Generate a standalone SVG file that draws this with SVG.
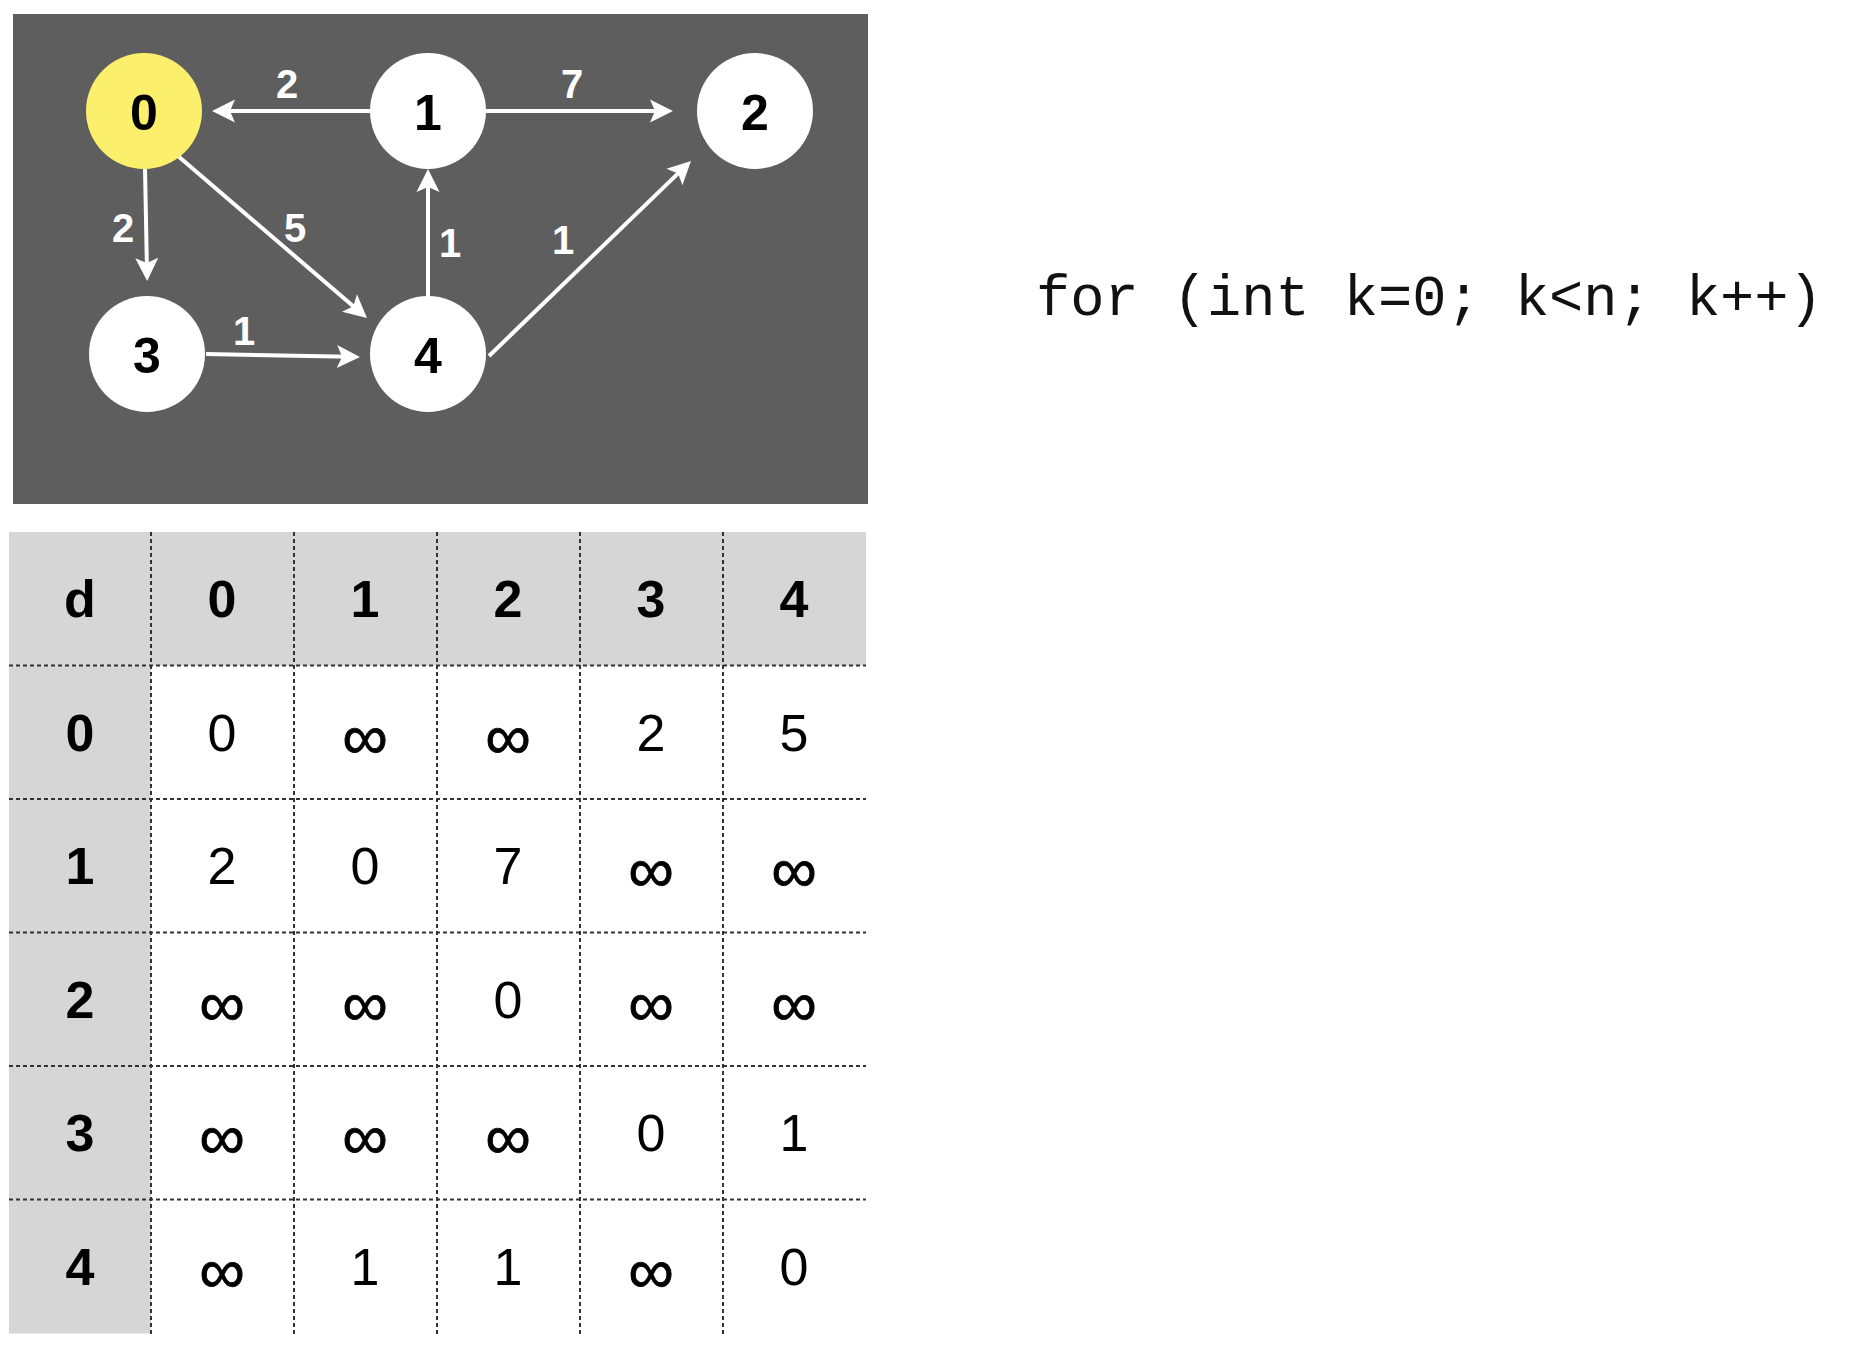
<svg xmlns="http://www.w3.org/2000/svg" width="1850" height="1350" viewBox="0 0 1850 1350">
<style>
.nd{fill:#ffffff}
.nl{font-family:"Liberation Sans",Arial,sans-serif;font-weight:bold;font-size:50px;fill:#000;text-anchor:middle}
.el{font-family:"Liberation Sans",Arial,sans-serif;font-weight:bold;font-size:40px;fill:#fff;text-anchor:middle}
.ed{stroke:#fff;stroke-width:4;fill:none;marker-end:url(#ah)}
.th{font-family:"Liberation Sans",Arial,sans-serif;font-weight:bold;font-size:52px;fill:#000;text-anchor:middle}
.td{font-family:"Liberation Sans",Arial,sans-serif;font-size:52px;fill:#000;text-anchor:middle}
.inf{font-family:"Liberation Sans",Arial,sans-serif;font-size:64px;fill:#000;text-anchor:middle;stroke:#000;stroke-width:0.8}
.gl{stroke:#333;stroke-width:2;stroke-dasharray:4 3;fill:none}
.code{font-family:"Liberation Mono","Courier New",monospace;font-size:57px;fill:#111}
</style>
<defs>
<marker id="ah" markerUnits="userSpaceOnUse" viewBox="-24 -13 26 26" refX="-10" refY="0" markerWidth="26" markerHeight="26" orient="auto">
<path d="M0,0 L-23,-11.5 L-18,0 L-23,11.5 Z" fill="#fff"/>
</marker>
</defs>
<rect width="1850" height="1350" fill="#fff"/>
<rect id="panel" x="13" y="14" width="855" height="490" fill="#5e5e5e"/>
<g id="connectors">
<line class="ed" x1="371" y1="111" x2="222" y2="111"/>
<line class="ed" x1="485" y1="111" x2="663" y2="111"/>
<line class="ed" x1="145" y1="169" x2="147" y2="271"/>
<line class="ed" x1="171" y1="150" x2="359.4" y2="311.5"/>
<line class="ed" x1="428" y1="297" x2="428" y2="179"/>
<line class="ed" x1="489" y1="356" x2="683.8" y2="167.9"/>
<line class="ed" x1="206" y1="354" x2="350" y2="356.8"/>
<text class="el" x="287" y="98">2</text>
<text class="el" x="572" y="98">7</text>
<text class="el" x="123" y="242">2</text>
<text class="el" x="295" y="242">5</text>
<text class="el" x="450" y="257">1</text>
<text class="el" x="563" y="254">1</text>
<text class="el" x="244" y="345">1</text>
</g>
<g id="node0"><circle cx="144" cy="111" r="58" fill="#fcef6c"/><text class="nl" x="144" y="130">0</text></g>
<g id="node1"><circle class="nd" cx="428" cy="111" r="58"/><text class="nl" x="428" y="130">1</text></g>
<g id="node2"><circle class="nd" cx="755" cy="111" r="58"/><text class="nl" x="755" y="130">2</text></g>
<g id="node3"><circle class="nd" cx="147" cy="354" r="58"/><text class="nl" x="147" y="373">3</text></g>
<g id="node4"><circle class="nd" cx="428" cy="354" r="58"/><text class="nl" x="428" y="373">4</text></g>
<g id="table">
<rect x="9" y="532" width="857" height="133.5" fill="#d6d6d6"/>
<rect x="9" y="665.5" width="142" height="668" fill="#d6d6d6"/>
<g class="gl">
<line x1="151" y1="532" x2="151" y2="1334"/>
<line x1="294" y1="532" x2="294" y2="1334"/>
<line x1="437" y1="532" x2="437" y2="1334"/>
<line x1="580" y1="532" x2="580" y2="1334"/>
<line x1="723" y1="532" x2="723" y2="1334"/>
<line x1="9" y1="665.5" x2="866" y2="665.5"/>
<line x1="9" y1="799" x2="866" y2="799"/>
<line x1="9" y1="932.5" x2="866" y2="932.5"/>
<line x1="9" y1="1066" x2="866" y2="1066"/>
<line x1="9" y1="1199.5" x2="866" y2="1199.5"/>
</g>
<text class="th" x="80" y="617">d</text>
<text class="th" x="222" y="617">0</text>
<text class="th" x="365" y="617">1</text>
<text class="th" x="508" y="617">2</text>
<text class="th" x="651" y="617">3</text>
<text class="th" x="794" y="617">4</text>
<text class="th" x="80" y="751">0</text>
<text class="th" x="80" y="884">1</text>
<text class="th" x="80" y="1018">2</text>
<text class="th" x="80" y="1151">3</text>
<text class="th" x="80" y="1285">4</text>
<text class="td" x="222" y="751">0</text><text class="inf" x="365" y="759">∞</text><text class="inf" x="508" y="759">∞</text><text class="td" x="651" y="751">2</text><text class="td" x="794" y="751">5</text>
<text class="td" x="222" y="884">2</text><text class="td" x="365" y="884">0</text><text class="td" x="508" y="884">7</text><text class="inf" x="651" y="892">∞</text><text class="inf" x="794" y="892">∞</text>
<text class="inf" x="222" y="1026">∞</text><text class="inf" x="365" y="1026">∞</text><text class="td" x="508" y="1018">0</text><text class="inf" x="651" y="1026">∞</text><text class="inf" x="794" y="1026">∞</text>
<text class="inf" x="222" y="1159">∞</text><text class="inf" x="365" y="1159">∞</text><text class="inf" x="508" y="1159">∞</text><text class="td" x="651" y="1151">0</text><text class="td" x="794" y="1151">1</text>
<text class="inf" x="222" y="1293">∞</text><text class="td" x="365" y="1285">1</text><text class="td" x="508" y="1285">1</text><text class="inf" x="651" y="1293">∞</text><text class="td" x="794" y="1285">0</text>
</g>
<text id="code" class="code" x="1036" y="315">for (int k=0; k&lt;n; k++)</text>
</svg>
